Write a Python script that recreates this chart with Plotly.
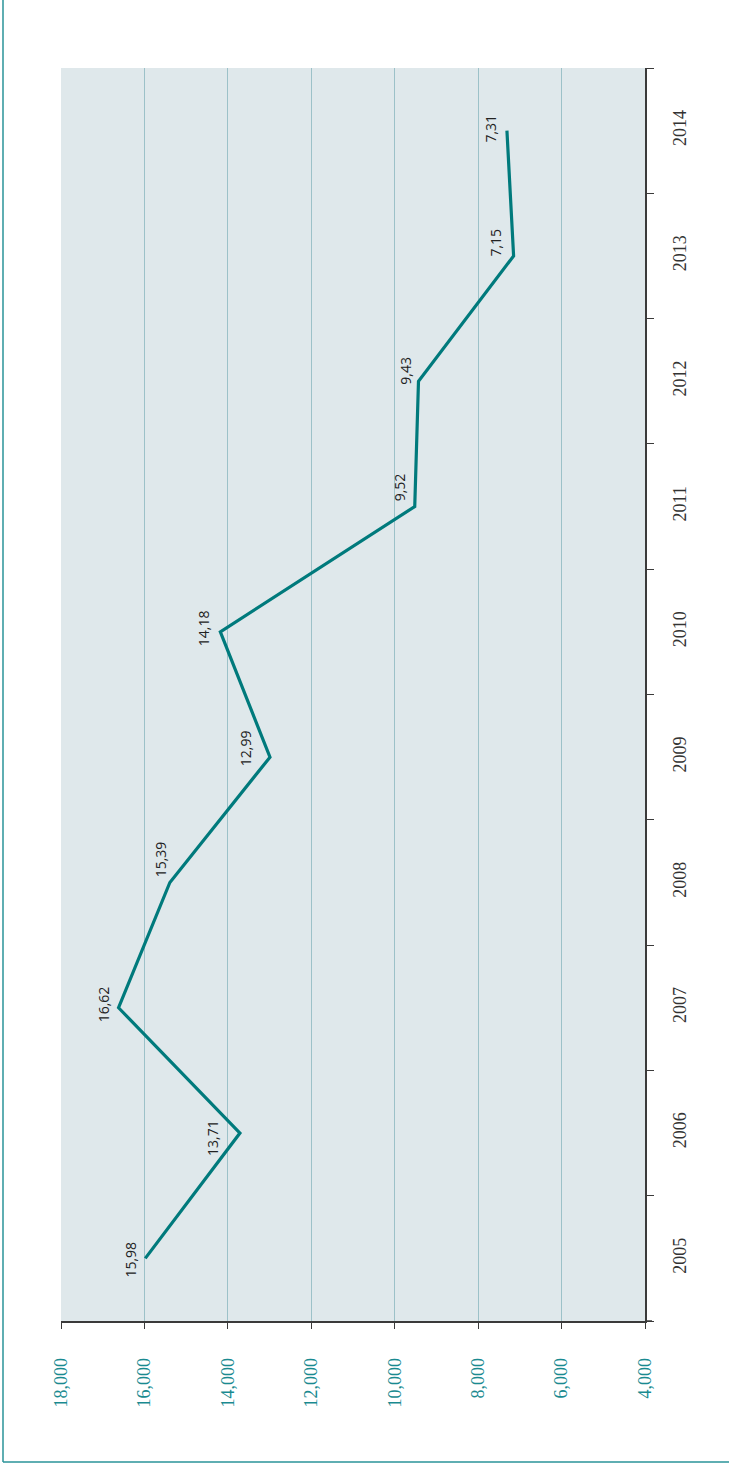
import plotly.graph_objects as go

# ---- data ----
years = ["2005", "2006", "2007", "2008", "2009", "2010", "2011", "2012", "2013", "2014"]
values = [15980, 13710, 16620, 15390, 12990, 14180, 9520, 9430, 7150, 7310]
value_labels = ["15,98", "13,71", "16,62", "15,39", "12,99", "14,18", "9,52", "9,43", "7,15", "7,31"]
value_ticks = [18000, 16000, 14000, 12000, 10000, 8000, 6000, 4000]
value_tick_text = ["18,000", "16,000", "14,000", "12,000", "10,000", "8,000", "6,000", "4,000"]

# ---- style ----
W, H = 729, 1469
ML, MR, MT, MB = 61, 84, 68, 148
LINE = "#007a7c"
GRID = "#9cc1c8"
BG = "#dfe8eb"
AX = "#3a3a3a"
TEAL_TXT = "#1a8a90"

# label offsets (pixels: right, up) relative to each point
label_shift = [(-15, -1), (-28, -5), (-15, 3), (-9, 23), (-25, 9),
               (-17, 4), (-15, 19), (-13, 11), (-18, 13), (-16, 2)]

fig = go.Figure()
fig.add_trace(go.Scatter(
    x=values, y=years, mode="lines",
    line=dict(color=LINE, width=3.2),
    hoverinfo="skip", showlegend=False,
))

for i, (v, t, (dx, dy)) in enumerate(zip(values, value_labels, label_shift)):
    fig.add_annotation(x=v, y=i, xref="x", yref="y", text=t, showarrow=False,
                       textangle=-90, xshift=dx, yshift=dy,
                       font=dict(family="Open Sans", size=14, color="#222222"))

pw = W - ML - MR
ph = H - MT - MB
# outer frame (left and bottom edges visible)
fx = (3 - ML) / pw
fy = -(1462 - (H - MB)) / ph
ftop = 1 + MT / ph
fig.add_shape(type="line", xref="paper", yref="paper",
              x0=fx, x1=fx, y0=fy, y1=ftop,
              line=dict(color="#2a9398", width=1.5))
fig.add_shape(type="line", xref="paper", yref="paper",
              x0=fx, x1=1 + MR / pw, y0=fy, y1=fy,
              line=dict(color="#2a9398", width=1.5))
# bottom axis extension past right axis
fig.add_shape(type="line", xref="paper", yref="paper",
              x0=1, x1=1 + 7 / pw, y0=0, y1=0,
              line=dict(color=AX, width=1.5))

fig.update_layout(
    width=W, height=H,
    margin=dict(l=ML, r=MR, t=MT, b=MB, pad=0),
    paper_bgcolor="white",
    plot_bgcolor=BG,
    showlegend=False,
    xaxis=dict(
        range=[18000, 4000], side="bottom",
        tickmode="array", tickvals=value_ticks, ticktext=value_tick_text,
        tickangle=-90, ticks="outside", ticklen=6, tickwidth=1.2, tickcolor=AX,
        showgrid=True, gridcolor=GRID, gridwidth=1,
        showline=True, linecolor=AX, linewidth=1.5,
        zeroline=False,
        tickfont=dict(family="Liberation Serif, serif", size=18, color=TEAL_TXT),
        ticklabelstandoff=22,
    ),
    yaxis=dict(
        type="category", categoryorder="array", categoryarray=years,
        range=[-0.5, 9.5], side="right",
        tickangle=-90, ticks="outside", ticklen=7, tickwidth=1.2, tickcolor=AX,
        tickson="boundaries",
        showgrid=False, showline=True, linecolor=AX, linewidth=1.5,
        zeroline=False,
        tickfont=dict(family="Liberation Serif, serif", size=18, color="#333333"),
        ticklabelstandoff=18,
    ),
)

fig.write_html("out.html", config={"displayModeBar": False},
               post_script="document.body.style.margin='0px';")
